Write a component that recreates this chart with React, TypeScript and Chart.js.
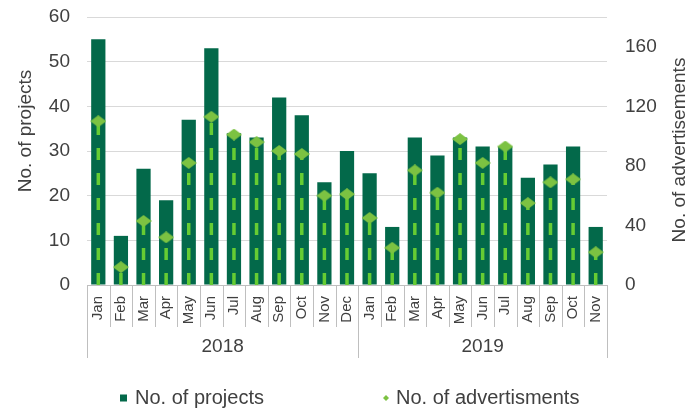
import React, { useEffect, useRef } from "react";
import { Chart, registerables } from "chart.js";

Chart.register(...registerables);

const months = [
  "Jan", "Feb", "Mar", "Apr", "May", "Jun", "Jul", "Aug", "Sep", "Oct", "Nov", "Dec",
  "Jan", "Feb", "Mar", "Apr", "May", "Jun", "Jul", "Aug", "Sep", "Oct", "Nov",
];
const years = ["2018", "2019"];
const monthsPerYear = [12, 11];
const projects = [55, 11, 26, 19, 37, 53, 34, 33, 42, 38, 23, 30, 25, 13, 33, 29, 33, 31, 31, 24, 27, 31, 13];
const advertisements = [110, 12, 43, 32, 82, 113, 101, 96, 90, 88, 60, 61, 45, 25, 77, 62, 98, 82, 93, 55, 69, 71, 22];
const seriesNames = ["No. of projects", "No. of advertisments"];
const leftAxisTitle = "No. of projects";
const rightAxisTitle = "No. of advertisements";

const BAR = "#03694a";
const DIAMOND = "#7cc242";
const DASH = "#66cc33";
const TEXT = "#404040";
const SEP = "#bfbfbf";
const GRID = "#d9d9d9";
const FONT = "'Liberation Sans', Arial, sans-serif";

function makeDiamond(w: number, h: number, color: string) {
  const c = document.createElement("canvas");
  c.width = w;
  c.height = h;
  const ctx = c.getContext("2d")!;
  ctx.fillStyle = color;
  ctx.beginPath();
  ctx.moveTo(w / 2, 0);
  ctx.lineTo(w, h / 2);
  ctx.lineTo(w / 2, h);
  ctx.lineTo(0, h / 2);
  ctx.closePath();
  ctx.fill();
  return c;
}

const dropLines = {
  id: "dropLines",
  afterDatasetDraw(chart: any, args: any) {
    if (args.index !== 0) return;
    const meta = chart.getDatasetMeta(1);
    const y1 = chart.scales.y1;
    const base = y1.getPixelForValue(0);
    const ctx = chart.ctx;
    ctx.save();
    ctx.strokeStyle = DASH;
    ctx.lineWidth = 3.5;
    ctx.setLineDash([12, 13]);
    meta.data.forEach((pt: any) => {
      ctx.beginPath();
      ctx.moveTo(pt.x, base);
      ctx.lineTo(pt.x, pt.y);
      ctx.stroke();
    });
    ctx.restore();
  },
};

const axisDecor = {
  id: "axisDecor",
  afterDraw(chart: any) {
    const ctx = chart.ctx;
    const x = chart.scales.x;
    const area = chart.chartArea;
    const n = months.length;
    const w = (area.right - area.left) / n;
    const top = area.bottom;
    ctx.save();
    ctx.strokeStyle = SEP;
    ctx.lineWidth = 1;
    ctx.beginPath();
    ctx.moveTo(area.left, top + 0.5);
    ctx.lineTo(area.right, top + 0.5);
    ctx.stroke();
    const yearEdges = new Set<number>();
    let acc = 0;
    yearEdges.add(0);
    monthsPerYear.forEach((m) => {
      acc += m;
      yearEdges.add(acc);
    });
    for (let i = 0; i <= n; i++) {
      const px = i < n ? x.getPixelForTick(i) - w / 2 : x.getPixelForTick(n - 1) + w / 2;
      const xx = Math.round(px) + 0.5;
      const len = yearEdges.has(i) ? 73 : 42;
      ctx.beginPath();
      ctx.moveTo(xx, top);
      ctx.lineTo(xx, top + len);
      ctx.stroke();
    }
    ctx.fillStyle = TEXT;
    ctx.font = `19px ${FONT}`;
    ctx.textAlign = "center";
    ctx.textBaseline = "middle";
    let start = 0;
    monthsPerYear.forEach((m, yi) => {
      const l = x.getPixelForTick(start) - w / 2;
      const r = x.getPixelForTick(start + m - 1) + w / 2;
      ctx.fillText(years[yi], (l + r) / 2, top + 62);
      start += m;
    });

    // axis titles (both read bottom-to-top)
    ctx.save();
    ctx.translate(26, 131);
    ctx.rotate(-Math.PI / 2);
    ctx.fillText(leftAxisTitle, 0, 0);
    ctx.restore();
    ctx.save();
    ctx.translate(680, 150);
    ctx.rotate(-Math.PI / 2);
    ctx.fillText(rightAxisTitle, 0, 0);
    ctx.restore();

    // legend
    const ly = 398;
    ctx.font = `20px ${FONT}`;
    ctx.textAlign = "left";
    ctx.fillStyle = BAR;
    ctx.fillRect(120, ly - 3.5, 7, 7);
    ctx.fillStyle = TEXT;
    ctx.fillText(seriesNames[0], 135, ly);
    ctx.fillStyle = DIAMOND;
    ctx.beginPath();
    ctx.moveTo(386, ly - 3);
    ctx.lineTo(389, ly);
    ctx.lineTo(386, ly + 3);
    ctx.lineTo(383, ly);
    ctx.closePath();
    ctx.fill();
    ctx.fillStyle = TEXT;
    ctx.fillText(seriesNames[1], 396, ly);
    ctx.restore();
  },
};

export default function App() {
  const ref = useRef<HTMLCanvasElement>(null);
  useEffect(() => {
    if (!ref.current) return;
    const diamond = makeDiamond(16, 12, DIAMOND);
    const chart = new Chart(ref.current, {
      type: "bar",
      data: {
        labels: months,
        datasets: [
          {
            type: "bar",
            label: seriesNames[0],
            data: projects,
            backgroundColor: BAR,
            yAxisID: "y",
            barPercentage: 0.63,
            categoryPercentage: 1,
            order: 2,
          },
          {
            type: "line",
            label: seriesNames[1],
            data: advertisements,
            yAxisID: "y1",
            showLine: false,
            pointStyle: diamond as any,
            pointRadius: 8,
            backgroundColor: DIAMOND,
            borderColor: DIAMOND,
            order: 1,
          },
        ],
      },
      options: {
        animation: false,
        responsive: true,
        maintainAspectRatio: false,
        layout: { padding: { top: 17, left: 0, right: 0, bottom: 0 } },
        plugins: { legend: { display: false }, tooltip: { enabled: false } },
        scales: {
          x: {
            grid: { display: false },
            border: { display: false },
            ticks: {
              autoSkip: false,
              minRotation: 90,
              maxRotation: 90,
              padding: 3,
              color: TEXT,
              font: { size: 15, family: FONT },
            },
            afterFit: (s: any) => {
              s.height = 125;
            },
          },
          y: {
            position: "left",
            min: 0,
            max: 60,
            ticks: { stepSize: 10, padding: 0, color: TEXT, font: { size: 19, family: FONT } },
            grid: { color: GRID, lineWidth: 1, drawTicks: true, tickLength: 17, tickColor: "rgba(0,0,0,0)" },
            border: { display: false },
            title: { display: false },
            afterFit: (s: any) => {
              s.width = 87;
            },
          },
          y1: {
            position: "right",
            min: 0,
            max: 180,
            ticks: { stepSize: 40, padding: 0, color: TEXT, font: { size: 19, family: FONT } },
            afterBuildTicks: (s: any) => {
              s.ticks = s.ticks.filter((t: any) => t.value % 40 === 0);
            },
            grid: {
              display: true,
              drawOnChartArea: false,
              drawTicks: true,
              tickLength: 18,
              tickColor: "rgba(0,0,0,0)",
            },
            border: { display: false },
            title: { display: false },
            afterFit: (s: any) => {
              s.width = 90;
            },
          },
        },
      },
      plugins: [dropLines, axisDecor],
    });
    return () => chart.destroy();
  }, []);
  return (
    <div style={{ position: "fixed", left: 0, top: 0, width: 697, height: 410, background: "#fff" }}>
      <canvas ref={ref} />
    </div>
  );
}
